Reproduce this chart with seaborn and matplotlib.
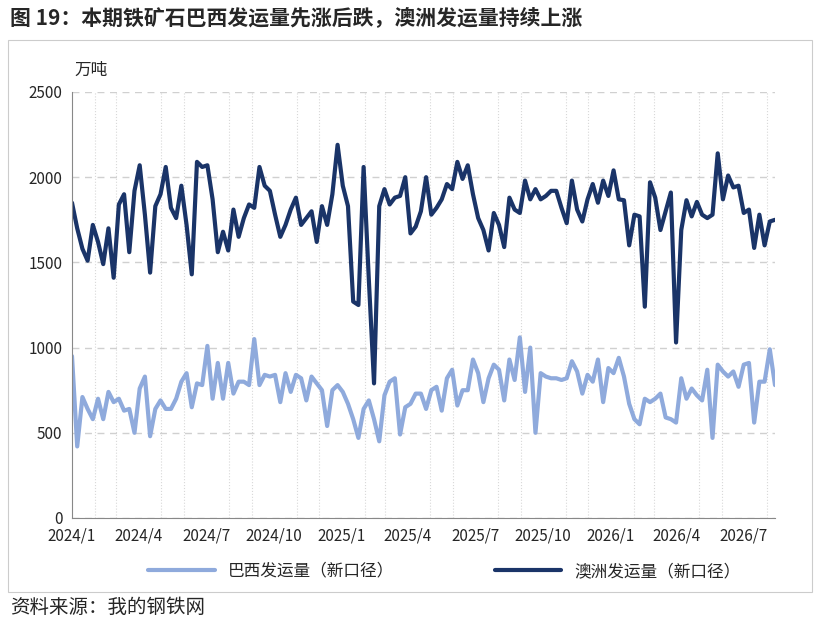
import numpy as np
import pandas as pd
import matplotlib
matplotlib.use("Agg")
import matplotlib.pyplot as plt
import matplotlib.dates as mdates
import seaborn as sns

australia = [1850,1700,1580,1510,1720,1620,1490,1700,1410,1840,
             1900,1560,1920,2070,1780,1440,1830,1900,2060,1820,
             1760,1950,1720,1430,2090,2060,2070,1870,1560,1680,
             1570,1810,1650,1760,1840,1820,2060,1950,1920,
             1780,1650,1720,1810,1880,1720,1760,1800,1620,
             1830,1720,1900,2190,1950,1830,1270,1250,2060,1400,
             790,1830,1930,1840,1880,1890,2000,1670,1710,1800,
             2000,1780,1820,1870,1960,1930,2090,1990,2070,1900,
             1760,1690,1570,1790,1720,1590,1880,1810,1790,
             1980,1870,1930,1870,1890,1920,1920,1820,1730,1980,
             1810,1740,1870,1960,1850,1980,1890,2040,1870,1865,
             1600,1780,1770,1240,1970,1880,1690,1800,1910,
             1030,1690,1865,1770,1855,1780,1760,1780,2140,1870,
             2010,1940,1950,1790,1810,1585,1780,1600,1740,1750]
brazil = [950,420,710,640,580,700,580,740,680,700,
          630,640,500,760,830,480,640,690,640,640,
          700,800,850,650,790,780,1010,700,910,700,
          910,730,800,800,780,1050,780,840,830,840,
          680,850,740,840,820,690,830,790,750,540,
          750,780,740,670,580,470,640,690,580,450,
          720,800,820,490,650,670,730,730,640,750,
          770,630,820,870,660,750,750,930,850,680,
          820,900,870,690,930,810,1060,740,1000,500,
          850,830,820,820,810,820,920,860,730,840,
          800,930,680,880,850,940,830,670,580,550,
          700,680,700,730,590,580,560,820,700,760,
          720,690,870,470,900,860,830,860,770,900,
          910,560,800,800,990,780]

start, end = pd.Timestamp("2024-01-01"), pd.Timestamp("2026-08-12")
df = pd.concat([
    pd.DataFrame({"date": pd.date_range(start, end, periods=len(brazil)), "v": brazil, "s": "巴西发运量（新口径）"}),
    pd.DataFrame({"date": pd.date_range(start, end, periods=len(australia)), "v": australia, "s": "澳洲发运量（新口径）"}),
])

sns.set_style("white")
plt.rcParams['font.family'] = ['Noto Sans CJK SC', 'DejaVu Sans']

fig = plt.figure(figsize=(8.2, 6.29), dpi=100)
ax = fig.add_axes([72/820, 1-518/629, (775-72)/820, (518-92)/629])
sns.lineplot(data=df, x="date", y="v", hue="s", palette=["#8faadc", "#1a3468"],
             linewidth=3, ax=ax, legend=True)
ax.set_ylim(0, 2500)
ax.set_yticks(range(0, 2501, 500))
ax.set_xlim(start, end)
ticks = pd.date_range("2024-01-01", "2026-07-01", freq="QS")
ax.set_xticks(ticks)
ax.set_xticklabels([f"{t.year}/{t.month}" for t in ticks], fontsize=11)
ax.xaxis.set_minor_locator(mdates.MonthLocator())
ax.tick_params(axis='y', labelsize=11, left=False)
ax.grid(axis='y', linestyle=(0, (5, 4)), color="#d0d0d0", linewidth=1)
ax.grid(axis='x', which='minor', linestyle=':', color="#d8d8d8", linewidth=0.8)
ax.set_xlabel(""); ax.set_ylabel("")
for s in ["top", "right"]:
    ax.spines[s].set_visible(False)
ax.spines["left"].set_color("#888888")
ax.spines["bottom"].set_color("#888888")
h, l = ax.get_legend_handles_labels()
ax.legend(h, l, loc="upper center", bbox_to_anchor=(0.53, -0.07), ncol=2,
          frameon=False, fontsize=12, handlelength=4, columnspacing=6)
fig.text(74/820, 1-70/629, "万吨", fontsize=12, va="center")
fig.text(10/820, 1-18/629, "图 19：本期铁矿石巴西发运量先涨后跌，澳洲发运量持续上涨", fontsize=15,
         fontweight="bold", va="center")
fig.text(10/820, 1-607/629, "资料来源：我的钢铁网", fontsize=14, va="center")
fig.add_artist(plt.Rectangle((8/820, 1-592/629), 804/820, 552/629, fill=False,
               edgecolor="#cccccc", linewidth=0.8, transform=fig.transFigure))
fig.savefig("out.png", dpi=100)
